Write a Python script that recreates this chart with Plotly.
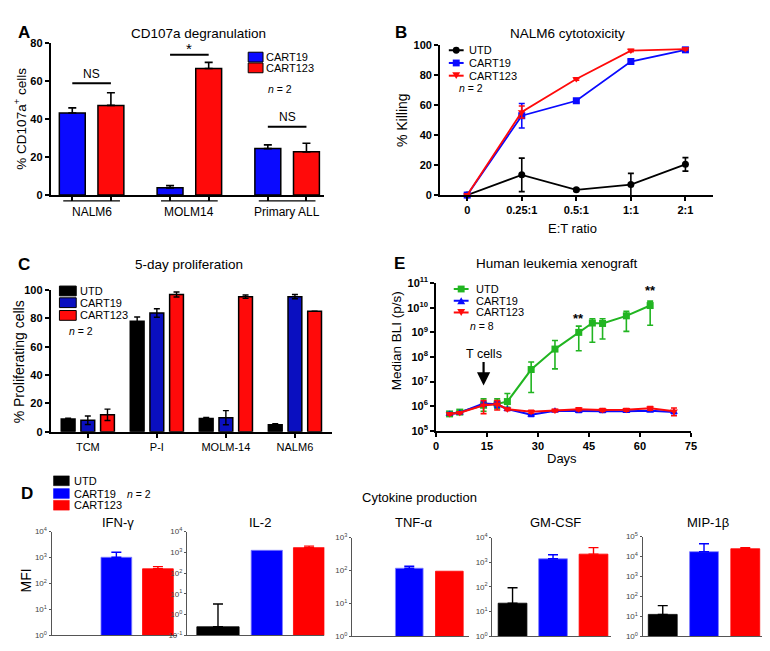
import plotly.graph_objects as go

W, H = 770, 651
FONT = "Liberation Sans, Arial, Helvetica, sans-serif"

# ---------------- DATA ----------------
# Panel A: CD107a degranulation
a_groups = ["NALM6", "MOLM14", "Primary ALL"]
a_cart19 = [43.3, 3.8, 24.5]
a_cart19_err = [2.7, 1.2, 2.0]
a_cart123 = [47.3, 66.8, 22.8]
a_cart123_err = [6.7, 3.2, 4.5]

# Panel B: NALM6 cytotoxicity
b_ratios = ["0", "0.25:1", "0.5:1", "1:1", "2:1"]
b_utd = [0.0, 13.5, 3.5, 7.0, 20.5]
b_utd_err = [0.6, 11.2, 0.8, 7.5, 4.5]
b_cart19 = [0.0, 53.0, 63.0, 89.2, 97.0]
b_cart19_err = [0.6, 8.2, 1.2, 1.2, 1.0]
b_cart123 = [0.0, 55.5, 77.5, 96.5, 97.5]
b_cart123_err = [0.6, 4.0, 0.8, 0.8, 0.6]

# Panel C: 5-day proliferation
c_groups = ["TCM", "P-I", "MOLM-14", "NALM6"]
c_utd = [9.0, 78.0, 9.5, 5.0]
c_utd_err = [0.6, 3.0, 0.6, 0.8]
c_cart19 = [8.2, 83.8, 10.0, 95.3]
c_cart19_err = [3.0, 3.0, 5.0, 1.5]
c_cart123 = [12.0, 96.8, 95.3, 85.0]
c_cart123_err = [4.0, 1.8, 1.2, 0.0]

# Panel E: Human leukemia xenograft (median BLI, p/s)
e_utd_days = [4, 7, 14, 18, 21, 28, 35, 42, 46, 49, 56, 63]
e_utd = [4.9e5, 5.8e5, 1.1e6, 1.25e6, 1.55e6, 3.1e7, 2.1e8, 1.0e9, 2.4e9, 2.3e9, 4.7e9, 1.23e10]
e_utd_hi = [5.6e5, 6.3e5, 2.0e6, 2.0e6, 3.3e6, 6.3e7, 4.7e8, 1.8e9, 3.6e9, 3.6e9, 7.1e9, 1.86e10]
e_utd_lo = [4.2e5, 5.0e5, 6.3e5, 8.0e5, 9.1e5, 3.6e6, 3.3e7, 1.8e8, 4.0e8, 5.4e8, 1.1e9, 1.95e9]
e_cart_days = [4, 7, 14, 18, 21, 28, 35, 42, 49, 56, 63, 70]
e_cart19 = [4.9e5, 5.5e5, 1.3e6, 1.2e6, 7.6e5, 4.5e5, 6.6e5, 6.2e5, 6.2e5, 6.3e5, 6.6e5, 5.8e5]
e_cart19_err = [0.6e5, 0.5e5, 3.0e5, 3.0e5, 0.8e5, 0.6e5, 0.6e5, 0.6e5, 0.6e5, 0.6e5, 0.6e5, 0.8e5]
e_cart123 = [4.9e5, 5.5e5, 1.1e6, 1.2e6, 7.6e5, 6.0e5, 6.8e5, 7.6e5, 7.1e5, 7.2e5, 8.3e5, 6.3e5]
e_cart123_err = [0.5e5, 0.5e5, 6.0e5, 5.0e5, 0.8e5, 0.8e5, 0.8e5, 1.0e5, 0.9e5, 0.9e5, 1.4e5, 2.2e5]

# Panel D: Cytokine production (MFI)
d_cytokines = ["IFN-γ", "IL-2", "TNF-α", "GM-CSF", "MIP-1β"]
d_utd = [None, 0.26, None, 22, 12.6]
d_utd_err = [0, 3.0, 0, 71, 22]
d_cart19 = [1030, 1260, 117, 1380, 17500]
d_cart19_err = [570, 0, 18, 620, 26500]
d_cart123 = [370, 1700, 95, 2130, 24500]
d_cart123_err = [80, 300, 0, 1770, 3000]

series = ["UTD", "CART19", "CART123"]

# ---------------- STYLE ----------------
BLUE_A = "#0a0aff"
RED = "#ff0a0a"
BLUE_C = "#0a0fc0"
GREEN = "#21b521"
BLACK = "#000000"


def px(x):
    return x / W


def py(y):
    return 1 - y / H


def dom(x0, x1, y0, y1):
    return dict(x=[px(x0), px(x1)], y=[py(y1), py(y0)])


fig = go.Figure()
annotations = []
shapes = []


def ann(text, x, y, size=12, bold=False, xanchor="center", yanchor="middle", angle=0, color=BLACK):
    annotations.append(dict(text=text, x=px(x), y=py(y), xref="paper", yref="paper",
                            showarrow=False, xanchor=xanchor, yanchor=yanchor, textangle=angle,
                            font=dict(family=FONT, size=size, color=color,
                                      weight="bold" if bold else "normal")))


def legend_box(x0, x1, yc, h, color, line=BLACK, lw=1):
    shapes.append(dict(type="rect", xref="paper", yref="paper", x0=px(x0), x1=px(x1),
                       y0=py(yc + h / 2), y1=py(yc - h / 2), fillcolor=color,
                       line=dict(color=line, width=lw)))


def legend_line(x0, x1, yc, color, symbol):
    shapes.append(dict(type="line", xref="paper", yref="paper", x0=px(x0), x1=px(x1),
                       y0=py(yc), y1=py(yc), line=dict(color=color, width=2)))
    xc = (x0 + x1) / 2
    s = 3.5
    if symbol == "square":
        shapes.append(dict(type="rect", xref="paper", yref="paper", x0=px(xc - s), x1=px(xc + s),
                           y0=py(yc + s), y1=py(yc - s), fillcolor=color, line=dict(width=0)))
    elif symbol == "circle":
        shapes.append(dict(type="circle", xref="paper", yref="paper", x0=px(xc - s), x1=px(xc + s),
                           y0=py(yc + s), y1=py(yc - s), fillcolor=color, line=dict(width=0)))
    else:
        if symbol == "triangle-up":
            pts = [(xc - s - 0.5, yc + s), (xc + s + 0.5, yc + s), (xc, yc - s)]
        else:
            pts = [(xc - s - 0.5, yc - s), (xc + s + 0.5, yc - s), (xc, yc + s)]
        path = "M " + " L ".join(f"{px(a)},{py(b)}" for a, b in pts) + " Z"
        shapes.append(dict(type="path", xref="paper", yref="paper", path=path,
                           fillcolor=color, line=dict(width=0)))


tick_bold = dict(family=FONT, size=11, color=BLACK, weight="bold")
tick_reg = dict(family=FONT, size=11, color=BLACK)
axis_common = dict(showline=True, linecolor=BLACK, linewidth=1.6, ticks="outside",
                   ticklen=4, tickwidth=1.6, tickcolor=BLACK, showgrid=False, zeroline=False)

# ================= PANEL A =================
A_W = 0.265
A_OFF = [-0.33, 0.065]
a_idx = list(range(len(a_groups)))
for vals, errs, col, off, name in [(a_cart19, a_cart19_err, BLUE_A, A_OFF[0], "CART19"),
                                   (a_cart123, a_cart123_err, RED, A_OFF[1], "CART123")]:
    fig.add_trace(go.Bar(x=a_idx, y=vals, width=A_W, offset=off, name=name,
                         marker=dict(color=col, line=dict(color=BLACK, width=1.5)),
                         error_y=dict(type="data", array=errs, arrayminus=[0] * len(errs),
                                      symmetric=False, color=BLACK, thickness=1.6, width=4),
                         xaxis="x", yaxis="y", showlegend=False))
a_centers = [[i + off + A_W / 2 for off in A_OFF] for i in a_idx]
fig.update_layout(
    xaxis=dict(domain=dom(40, 317, 28, 183)["x"], anchor="y", range=[-0.42, 2.38],
               tickvals=[c for pair in a_centers for c in pair], ticktext=[""] * 6, **axis_common),
    yaxis=dict(domain=dom(40, 317, 28, 183)["y"], anchor="x", range=[0, 80], dtick=20,
               tickfont=tick_bold, **axis_common),
)
for i, g in enumerate(a_groups):
    ann(g, 0, 200, size=12)
    annotations[-1].update(x=i, xref="x")
    shapes.append(dict(type="line", xref="x", yref="paper", x0=i - 0.29, x1=i + 0.29,
                       y0=py(189), y1=py(189), line=dict(color=BLACK, width=1.3)))
# significance
for i, lab, ly, ty in [(0, "NS", 59, 64), (1, "*", 74, 77.5), (2, "NS", 36, 41)]:
    shapes.append(dict(type="line", xref="x", yref="y", x0=a_centers[i][0], x1=a_centers[i][1],
                       y0=ly, y1=ly, line=dict(color=BLACK, width=2)))
    annotations.append(dict(text=lab, x=i, y=ty, xref="x", yref="y", showarrow=False,
                            font=dict(family=FONT, size=12 if lab == "NS" else 15, color=BLACK)))
ann("A", 5, 17, size=17, bold=True, xanchor="left")
ann("CD107a degranulation", 190, 18, size=13.5)
ann("% CD107a<sup>+</sup> cells", 9, 105, size=13.5, angle=-90)
legend_box(240, 255, 42, 10, BLUE_A)
ann("CART19", 256, 42, size=11, xanchor="left")
legend_box(240, 255, 53, 10, RED)
ann("CART123", 256, 53, size=11, xanchor="left")
ann("<i>n</i> = 2", 272, 75, size=10.5)

# ================= PANEL B =================
b_idx = list(range(len(b_ratios)))
for vals, errs, col, sym, name in [(b_utd, b_utd_err, BLACK, "circle", "UTD"),
                                   (b_cart19, b_cart19_err, BLUE_A, "square", "CART19"),
                                   (b_cart123, b_cart123_err, RED, "triangle-down", "CART123")]:
    fig.add_trace(go.Scatter(x=b_idx, y=vals, mode="lines+markers", name=name,
                             line=dict(color=col, width=1.8),
                             marker=dict(symbol=sym, size=7, color=col),
                             error_y=dict(type="data", array=errs, color=col, thickness=1.6, width=3),
                             cliponaxis=False, xaxis="x2", yaxis="y2", showlegend=False))
fig.update_layout(
    xaxis2=dict(domain=dom(434, 710, 30, 183)["x"], anchor="y2", range=[-0.5, 4.5],
                tickvals=b_idx, ticktext=b_ratios, tickfont=tick_bold, **axis_common),
    yaxis2=dict(domain=dom(434, 710, 30, 183)["y"], anchor="x2", range=[0, 100], dtick=20,
                tickfont=tick_bold, **axis_common),
)
ann("B", 387, 17, size=17, bold=True, xanchor="left")
ann("NALM6 cytotoxicity", 563, 18, size=13.5)
ann("% Killing", 395, 106, size=14, angle=-90)
ann("E:T ratio", 568, 217, size=13)
for yc, col, sym, name in [(35, BLACK, "circle", "UTD"), (48, BLUE_A, "square", "CART19"),
                           (61, RED, "triangle-down", "CART123")]:
    legend_line(443, 458, yc, col, sym)
    ann(name, 461, yc, size=11, xanchor="left")
ann("<i>n</i> = 2", 465, 74, size=10.5)

# ================= PANEL C =================
C_W = 0.2
C_OFF = [-0.385, -0.1, 0.185]
c_idx = list(range(len(c_groups)))
for vals, errs, col, off, name in [(c_utd, c_utd_err, BLACK, C_OFF[0], "UTD"),
                                   (c_cart19, c_cart19_err, BLUE_C, C_OFF[1], "CART19"),
                                   (c_cart123, c_cart123_err, RED, C_OFF[2], "CART123")]:
    fig.add_trace(go.Bar(x=c_idx, y=vals, width=C_W, offset=off, name=name,
                         marker=dict(color=col, line=dict(color=BLACK, width=1.5)),
                         error_y=dict(type="data", array=errs, color=BLACK, thickness=1.4, width=3),
                         xaxis="x3", yaxis="y3", showlegend=False))
fig.update_layout(
    xaxis3=dict(domain=dom(40, 325, 280, 425)["x"], anchor="y3", range=[-0.54, 3.54],
                tickvals=c_idx, ticktext=c_groups, tickfont=tick_reg, **axis_common),
    yaxis3=dict(domain=dom(40, 325, 280, 425)["y"], anchor="x3", range=[0, 100], dtick=20,
                tickfont=tick_bold, **axis_common),
)
c_n = 3
x_a = c_n + C_OFF[1] + C_W / 2
x_b = c_n + C_OFF[2] + C_W / 2
shapes.append(dict(type="line", xref="x3", yref="y3", x0=x_a, x1=x_b, y0=101.5, y1=101.5,
                   line=dict(color=BLACK, width=2)))
annotations.append(dict(text="NS", x=(x_a + x_b) / 2, y=106, xref="x3", yref="y3", showarrow=False,
                        font=dict(family=FONT, size=11, color=BLACK)))
ann("C", 5, 254, size=17, bold=True, xanchor="left")
ann("5-day proliferation", 180, 254, size=13.5)
ann("% Proliferating cells", 9, 353, size=14, angle=-90)
for yc, col, name in [(281, BLACK, "UTD"), (293, BLUE_C, "CART19"), (306, RED, "CART123")]:
    legend_box(49, 66, yc, 10, col)
    ann(name, 68, yc, size=11, xanchor="left")
ann("<i>n</i> = 2", 71, 322, size=10.5)

# ================= PANEL E =================
utd_up = [h - v for h, v in zip(e_utd_hi, e_utd)]
utd_dn = [v - l for v, l in zip(e_utd, e_utd_lo)]
fig.add_trace(go.Scatter(x=e_utd_days, y=e_utd, mode="lines+markers", name="UTD",
                         line=dict(color=GREEN, width=2), marker=dict(symbol="square", size=7, color=GREEN),
                         error_y=dict(type="data", symmetric=False, array=utd_up, arrayminus=utd_dn,
                                      color=GREEN, thickness=1.6, width=3),
                         cliponaxis=False, xaxis="x4", yaxis="y4", showlegend=False))
for vals, errs, col, sym, name in [(e_cart19, e_cart19_err, BLUE_A, "triangle-up", "CART19"),
                                   (e_cart123, e_cart123_err, RED, "triangle-down", "CART123")]:
    fig.add_trace(go.Scatter(x=e_cart_days, y=vals, mode="lines+markers", name=name,
                             line=dict(color=col, width=2), marker=dict(symbol=sym, size=7, color=col),
                             error_y=dict(type="data", array=errs, color=col, thickness=1.6, width=3),
                             cliponaxis=False, xaxis="x4", yaxis="y4", showlegend=False))
e_exps = list(range(5, 12))
fig.update_layout(
    xaxis4=dict(domain=dom(430, 688, 273, 424)["x"], anchor="y4", range=[0, 75], dtick=15,
                tickfont=tick_bold, **axis_common),
    yaxis4=dict(domain=dom(430, 688, 273, 424)["y"], anchor="x4", type="log", range=[5, 11],
                tickvals=[10 ** e for e in e_exps], ticktext=[f"10<sup>{e}</sup>" for e in e_exps],
                tickfont=dict(family=FONT, size=11, color=BLACK, weight="bold"), **axis_common),
)
ann("E", 386, 253, size=17, bold=True, xanchor="left")
ann("Human leukemia xenograft", 552, 253, size=13.5)
ann("Median BLI (p/s)", 390, 332, size=13.5, angle=-90)
ann("Days", 558, 452, size=13)
for yc, col, sym, name in [(279, GREEN, "square", "UTD"), (291, BLUE_A, "triangle-up", "CART19"),
                           (303, RED, "triangle-down", "CART123")]:
    legend_line(448, 463, yc, col, sym)
    ann(name, 468, yc, size=11, xanchor="left")
ann("<i>n</i> = 8", 477, 317, size=10.5)
annotations.append(dict(text="T cells", x=14, y=6.84, xref="x4", yref="y4", showarrow=True,
                        ax=0, ay=-32, arrowhead=2, arrowsize=1.2, arrowwidth=2.2, arrowcolor=BLACK,
                        font=dict(family=FONT, size=12.5, color=BLACK)))
for d, yl in [(42, 9.58), (63, 10.7)]:
    annotations.append(dict(text="**", x=d, y=yl, xref="x4", yref="y4", showarrow=False,
                            font=dict(family=FONT, size=13, color=BLACK, weight="bold")))

# ================= PANEL D =================
d_boxes = [(41, 168, 527, 633), (178, 317, 527, 633), (345, 463, 533, 634),
           (487, 607, 533, 634), (639, 763, 532, 634)]
d_ranges = [(0, 4), (-1, 4), (0, 3), (0, 4), (0, 5)]
d_xranges = [(-0.56, 2.46), (-0.89, 2.36), (-0.43, 2.48), (-0.5, 2.43), (-0.49, 2.48)]
d_widths = [0.74, 0.74, 0.69, 0.71, 0.7]
d_cols = [BLACK, "#0000ff", "#ff0000"]
layout_d = {}
for k, cyt in enumerate(d_cytokines):
    n = 5 + k
    xa, ya = f"x{n}", f"y{n}"
    w = d_widths[k]
    for j, (vals, errs) in enumerate([(d_utd, d_utd_err), (d_cart19, d_cart19_err),
                                      (d_cart123, d_cart123_err)]):
        v = vals[k]
        if v is None:
            continue
        bw, off = w, -w / 2
        if k == 1 and j == 0:
            bw, off = 1.0, -0.655
        fig.add_trace(go.Bar(x=[j], y=[v], width=bw, offset=off, name=series[j],
                             marker=dict(color=d_cols[j],
                                         line=dict(color="#7f7fff" if j == 1 else d_cols[j], width=0.8)),
                             error_y=dict(type="data", symmetric=False, array=[errs[k]], arrayminus=[0],
                                          color=d_cols[j], thickness=1.4, width=5,
                                          visible=errs[k] > 0),
                             xaxis=xa, yaxis=ya, showlegend=False))
    x0, x1, y0, y1 = d_boxes[k]
    lo, hi = d_ranges[k]
    exps = list(range(lo, hi + 1))
    layout_d[f"xaxis{n}"] = dict(domain=dom(x0, x1, y0, y1)["x"], anchor=ya, range=list(d_xranges[k]),
                                 showline=True, linecolor="#555555", linewidth=1, showticklabels=False,
                                 ticks="", showgrid=False, zeroline=False)
    layout_d[f"yaxis{n}"] = dict(domain=dom(x0, x1, y0, y1)["y"], anchor=xa, type="log", range=[lo, hi],
                                 tickvals=[10.0 ** e for e in exps],
                                 ticktext=[f"10<sup>{e}</sup>" for e in exps],
                                 tickfont=dict(family=FONT, size=8, color="#444444"),
                                 showline=True, linecolor="#555555", linewidth=1, ticks="outside",
                                 ticklen=2, tickwidth=1, tickcolor="#555555", showgrid=False, zeroline=False)
    ann(cyt, (x0 + x1) / 2 + 4, 518, size=13)
fig.update_layout(**layout_d)
ann("D", 8, 488, size=17, bold=True, xanchor="left")
ann("Cytokine production", 413, 492, size=13)
ann("MFI", 15, 577, size=14, angle=-90)
for yc, col, name in [(475, BLACK, "UTD"), (488, "#0000ff", "CART19"), (500, "#ff0000", "CART123")]:
    legend_box(43, 59, yc, 10, col, line=col, lw=0.5)
    ann(name, 62, yc, size=11, xanchor="left")
ann("<i>n</i> = 2", 130, 489, size=10.5)

fig.update_layout(width=W, height=H, autosize=False, margin=dict(l=0, r=0, t=0, b=0),
                  paper_bgcolor="white", plot_bgcolor="white", showlegend=False,
                  font=dict(family=FONT, color=BLACK), annotations=annotations, shapes=shapes)
fig.write_html("out.html")
